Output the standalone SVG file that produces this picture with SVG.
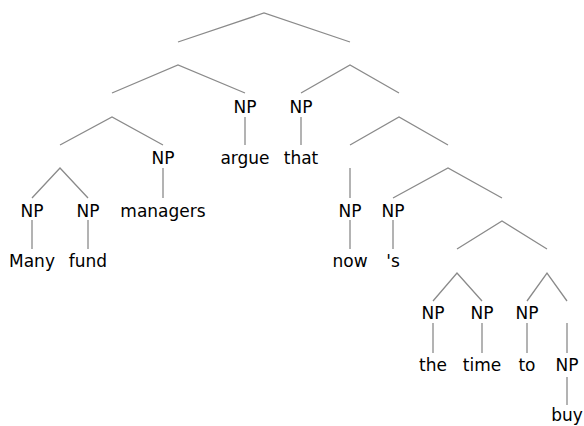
<svg xmlns="http://www.w3.org/2000/svg" width="584" height="426" viewBox="0 0 584 426">
<style>
  .c line, .c polyline { stroke: #8a8a8a; stroke-width: 1.3; fill: none; }
  text { font-family: "DejaVu Sans", "Liberation Sans", sans-serif; font-size: 17px; fill: #000; text-anchor: middle; }
</style>
<rect width="584" height="426" fill="#fff"/>
<g id="connectors" class="c">
  <polyline points="178,42 264,13 350,42"/>
  <polyline points="112,93 178,65 245,93"/>
  <line x1="245" y1="117" x2="245" y2="145"/>
  <polyline points="60,145 112,117 163,145"/>
  <line x1="163" y1="168" x2="163" y2="198"/>
  <polyline points="32,198 60,168 88,198"/>
  <line x1="32" y1="220" x2="32" y2="249"/>
  <line x1="88" y1="220" x2="88" y2="249"/>
  <polyline points="301,93 350,65 399,93"/>
  <line x1="301" y1="117" x2="301" y2="145"/>
  <polyline points="350,145 399,117 448,145"/>
  <line x1="350" y1="168" x2="350" y2="198"/>
  <line x1="350" y1="220" x2="350" y2="249"/>
  <polyline points="393,198 448,168 502,198"/>
  <line x1="393" y1="220" x2="393" y2="249"/>
  <polyline points="457,249 502,221 547,249"/>
  <polyline points="433,301 457,273 482,301"/>
  <line x1="433" y1="323" x2="433" y2="353"/>
  <line x1="482" y1="323" x2="482" y2="353"/>
  <polyline points="527,301 547,273 567,301"/>
  <line x1="527" y1="323" x2="527" y2="353"/>
  <line x1="567" y1="323" x2="567" y2="353"/>
  <line x1="567" y1="377" x2="567" y2="405"/>
</g>
<g id="np-argue"><text x="245" y="112.5">NP</text></g>
<g id="w-argue"><text x="245" y="163.5">argue</text></g>
<g id="np-managers"><text x="163" y="163.5">NP</text></g>
<g id="w-managers"><text x="163" y="217">managers</text></g>
<g id="np-many"><text x="32" y="217">NP</text></g>
<g id="w-many"><text x="32" y="267">Many</text></g>
<g id="np-fund"><text x="88" y="217">NP</text></g>
<g id="w-fund"><text x="88" y="267">fund</text></g>
<g id="np-that"><text x="301" y="112.5">NP</text></g>
<g id="w-that"><text x="301" y="163.5">that</text></g>
<g id="np-now"><text x="350" y="217">NP</text></g>
<g id="w-now"><text x="350" y="267">now</text></g>
<g id="np-s"><text x="393" y="217">NP</text></g>
<g id="w-s"><text x="393" y="267">'s</text></g>
<g id="np-the"><text x="433" y="319">NP</text></g>
<g id="w-the"><text x="433" y="370.5">the</text></g>
<g id="np-time"><text x="482" y="319">NP</text></g>
<g id="w-time"><text x="482" y="370.5">time</text></g>
<g id="np-to"><text x="527" y="319">NP</text></g>
<g id="w-to"><text x="527" y="370.5">to</text></g>
<g id="np-buy"><text x="567" y="370.5">NP</text></g>
<g id="w-buy"><text x="567" y="420.5">buy</text></g>
</svg>
